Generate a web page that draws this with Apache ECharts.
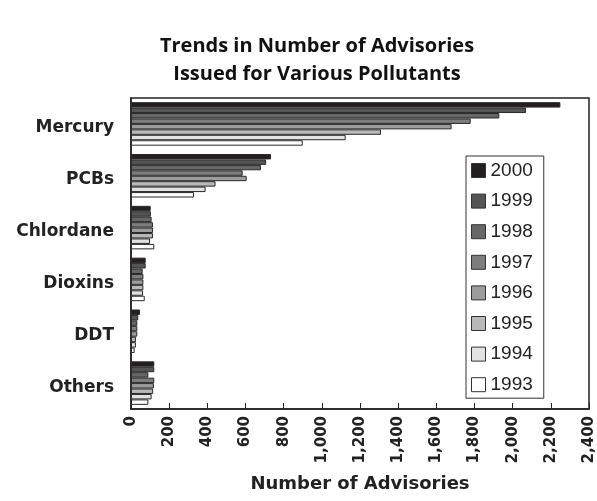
<!DOCTYPE html>
<html>
<head>
<meta charset="utf-8">
<script src="https://cdn.jsdelivr.net/npm/echarts@6/dist/echarts.min.js"></script>
<style>
  html, body { margin: 0; padding: 0; background: #fff; }
  #chart { width: 597px; height: 501px; }
</style>
</head>
<body>
<div id="chart"></div>
<script>
// categories, top to bottom
const pollutants = ['Mercury', 'PCBs', 'Chlordane', 'Dioxins', 'DDT', 'Others'];
const years = ['2000', '1999', '1998', '1997', '1996', '1995', '1994', '1993'];

// advisories per pollutant, one array per year
const y2000 = [2250, 734, 103, 77, 47, 122];
const y1999 = [2070, 708, 104, 77, 38, 122];
const y1998 = [1930, 681, 108, 61, 33, 91];
const y1997 = [1780, 585, 115, 65, 33, 122];
const y1996 = [1680, 606, 115, 65, 33, 120];
const y1995 = [1310, 443, 115, 65, 26, 116];
const y1994 = [1125, 391, 100, 63, 26, 108];
const y1993 = [900, 330, 122, 72, 19, 91];

const yearData = [y2000, y1999, y1998, y1997, y1996, y1995, y1994, y1993];
const colors = ['#231f20', '#555555', '#676767', '#7d7d7d', '#9c9c9c', '#b9b9b9', '#e2e2e2', '#ffffff'];

const chart = echarts.init(document.getElementById('chart'));

const series = years.map((yr, i) => ({
  name: yr,
  type: 'bar',
  data: yearData[i],
  barGap: '0%',
  barCategoryGap: '16%',
  itemStyle: { color: colors[i], borderColor: '#2a2a2a', borderWidth: 1 }
}));

const option = {
  animation: false,
  title: {
    text: 'Trends in Number of Advisories\nIssued for Various Pollutants',
    left: 312,
    textAlign: 'center',
    top: 27,
    textStyle: {
      fontFamily: 'Open Sans',
      fontWeight: 'bold',
      fontSize: 20,
      lineHeight: 28,
      color: '#111'
    }
  },
  legend: {
    data: years,
    orient: 'vertical',
    left: 466,
    top: 156,
    itemWidth: 14,
    itemHeight: 14,
    itemGap: 11.6,
    padding: [5, 11, 4, 5],
    borderColor: '#333',
    borderWidth: 1,
    icon: 'rect',
    itemStyle: { borderColor: '#333', borderWidth: 1 },
    textStyle: { fontFamily: 'Liberation Sans', fontSize: 19, color: '#222' }
  },
  grid: {
    left: 131,
    right: 8,
    top: 98,
    bottom: 92,
    show: true,
    borderColor: '#222',
    borderWidth: 1.5
  },
  xAxis: {
    type: 'value',
    min: 0,
    max: 2400,
    interval: 200,
    splitLine: { show: false },
    axisLine: { show: true, lineStyle: { color: '#222', width: 1.5 } },
    axisTick: { show: true, inside: true, length: 6, lineStyle: { color: '#222' } },
    axisLabel: {
      rotate: 90,
      margin: 7,
      fontFamily: 'DejaVu Sans',
      fontWeight: 'bold',
      fontSize: 15,
      color: '#222',
      formatter: v => v.toLocaleString('en-US')
    },
    name: 'Number of Advisories',
    nameLocation: 'middle',
    nameGap: 66,
    nameTextStyle: {
      fontFamily: 'DejaVu Sans',
      fontWeight: 'bold',
      fontSize: 18,
      color: '#222'
    }
  },
  yAxis: {
    type: 'category',
    data: pollutants,
    inverse: true,
    axisLine: { show: true, lineStyle: { color: '#222', width: 1.5 } },
    axisTick: { show: false },
    axisLabel: {
      margin: 17,
      verticalAlign: 'top',
      lineHeight: 8,
      fontFamily: 'DejaVu Sans',
      fontWeight: 'bold',
      fontSize: 17,
      color: '#222'
    }
  },
  series: series
};

chart.setOption(option);
</script>
</body>
</html>
